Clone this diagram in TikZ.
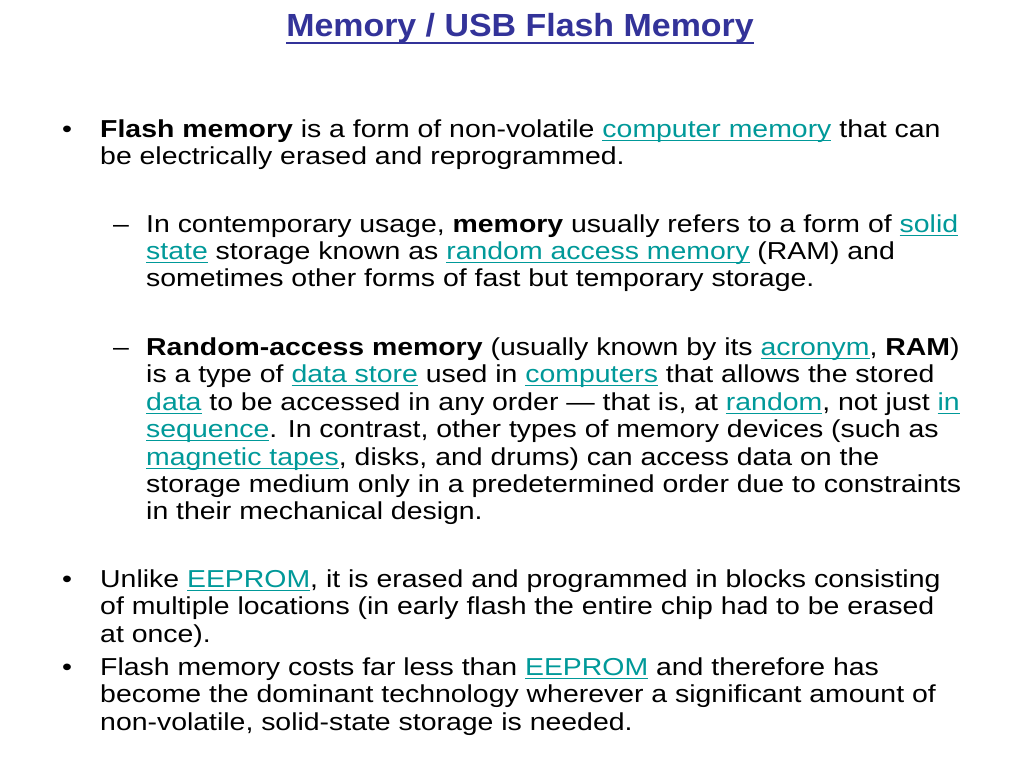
\documentclass[tikz,border=0pt]{standalone}
\usepackage{fontspec}
\setmainfont{Liberation Sans}
\newfontfamily\bodyfont{Liberation Sans}[FakeStretch=1.16]
\newfontfamily\titlefont{Liberation Sans}[FakeStretch=1.06]
\definecolor{titleblue}{HTML}{333399}
\definecolor{linkteal}{HTML}{009999}
\newcommand{\ul}[3]{\setbox0\hbox{#1}\rlap{\rule[-#2]{\wd0}{#3}}\box0}
\newcommand{\lnk}[1]{\textcolor{linkteal}{\ul{#1}{4pt}{1.5pt}}}

\begin{document}
\begin{tikzpicture}[x=1pt, y=-1pt,
    line/.style={anchor=base west, inner sep=0pt, font=\bodyfont\fontsize{24.5}{27}\selectfont},
    heading/.style={anchor=base, inner sep=0pt, text=titleblue, font=\titlefont\bfseries\fontsize{32}{36}\selectfont}]
    \useasboundingbox[fill=white] (0,0) rectangle (1024,768);
    \node [heading] (title) at (520,37) {\ul{Memory / USB Flash Memory}{7.5pt}{2.4pt}};

    \node [line] (b1) at (62,137) {•};
    \node [line] (l1a) at (100,137) {\textbf{Flash memory} is a form of non-volatile \lnk{computer memory} that can};
    \node [line] (l1b) at (100,164) {be electrically erased and reprogrammed.};

    \node [line] (d1) at (113,232) {–};
    \node [line] (s1a) at (146,232) {In contemporary usage, \textbf{memory} usually refers to a form of \lnk{solid}};
    \node [line] (s1b) at (146,259) {\lnk{state} storage known as \lnk{random access memory} (RAM) and};
    \node [line] (s1c) at (146,286) {sometimes other forms of fast but temporary storage.};

    \node [line] (d2) at (113,355) {–};
    \node [line] (s2a) at (146,355) {\textbf{Random-access memory} (usually known by its \lnk{acronym}, \textbf{RAM})};
    \node [line] (s2b) at (146,382) {is a type of \lnk{data store} used in \lnk{computers} that allows the stored};
    \node [line] (s2c) at (146,410) {\lnk{data} to be accessed in any order — that is, at \lnk{random}, not just \lnk{in}};
    \node [line] (s2d) at (146,437) {\lnk{sequence}. In contrast, other types of memory devices (such as};
    \node [line] (s2e) at (146,465) {\lnk{magnetic tapes}, disks, and drums) can access data on the};
    \node [line] (s2f) at (146,492) {storage medium only in a predetermined order due to constraints};
    \node [line] (s2g) at (146,519) {in their mechanical design.};

    \node [line] (b3) at (62,587) {•};
    \node [line] (l3a) at (100,587) {Unlike \lnk{EEPROM}, it is erased and programmed in blocks consisting};
    \node [line] (l3b) at (100,614) {of multiple locations (in early flash the entire chip had to be erased};
    \node [line] (l3c) at (100,642) {at once).};

    \node [line] (b4) at (62,675) {•};
    \node [line] (l4a) at (100,675) {Flash memory costs far less than \lnk{EEPROM} and therefore has};
    \node [line] (l4b) at (100,702) {become the dominant technology wherever a significant amount of};
    \node [line] (l4c) at (100,730) {non-volatile, solid-state storage is needed.};
\end{tikzpicture}
\end{document}
